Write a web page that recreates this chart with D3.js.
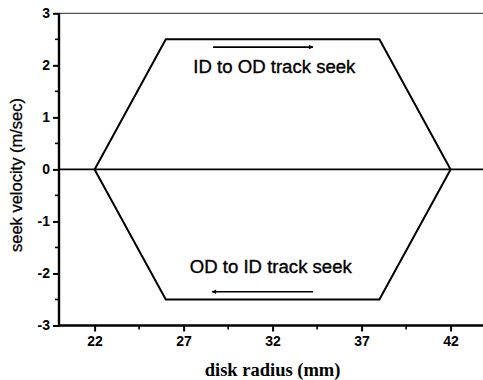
<!DOCTYPE html>
<html>
<head>
<meta charset="utf-8">
<script src="https://cdn.jsdelivr.net/npm/d3@7"></script>
<style>
  html, body { margin: 0; padding: 0; background: #fff; }
  svg { display: block; }
</style>
</head>
<body>
<svg id="chart" width="483" height="380"></svg>
<script>
// Seek velocity profile across the disk radius
const radius   = [22, 26, 38, 42, 38, 26, 22];          // mm
const velocity = [0, 2.5, 2.5, 0, -2.5, -2.5, 0];       // m/sec

const xTicks = [22, 27, 32, 37, 42];
const yTicks = [-3, -2, -1, 0, 1, 2, 3];
const xMinor = [24.5, 29.5, 34.5, 39.5];
const yMinor = [-2.5, -1.5, -0.5, 0.5, 1.5, 2.5];

const seekLabels = ["ID to OD track seek", "OD to ID track seek"];
const labelX = [32.1, 31.9];
const labelY = [1.85, -2.0];
const arrowFrom = [28.65, 34.27];
const arrowTo   = [34.27, 28.6];
const arrowY    = [2.35, -2.35];

const svg = d3.select("#chart");
const W = 483, H = 380;
const plotLeft = 59, plotTop = 13.3, plotBottom = 325.5;

const x = d3.scaleLinear().domain([20, 44]).range([plotLeft, plotLeft + 24 * 17.8]);
const y = d3.scaleLinear().domain([-3, 3]).range([plotBottom, plotTop]);

// plain hyphen for negative numbers
const fmt = d => String(d);

// top frame line
svg.append("line")
  .attr("x1", plotLeft).attr("x2", W)
  .attr("y1", y(3)).attr("y2", y(3))
  .attr("stroke", "#555").attr("stroke-width", 1.2);

// zero line
svg.append("line")
  .attr("x1", plotLeft).attr("x2", W)
  .attr("y1", y(0)).attr("y2", y(0))
  .attr("stroke", "#000").attr("stroke-width", 1.6);

// hexagonal velocity profile
const line = d3.line().x((d, i) => x(radius[i])).y(d => y(d));
svg.append("path")
  .datum(velocity)
  .attr("d", line)
  .attr("fill", "none")
  .attr("stroke", "#000")
  .attr("stroke-width", 2)
  .attr("stroke-linejoin", "miter");

// axes
const xAxis = d3.axisBottom(x).tickValues(xTicks).tickSize(6).tickPadding(5).tickFormat(fmt);
const yAxis = d3.axisLeft(y).tickValues(yTicks).tickSize(6).tickPadding(3).tickFormat(fmt);

const gx = svg.append("g").attr("transform", `translate(0,${plotBottom})`).call(xAxis);
const gy = svg.append("g").attr("transform", `translate(${plotLeft},0)`).call(yAxis);

gx.select(".domain").remove();
gy.select(".domain").remove();

[gx, gy].forEach(g => {
  g.selectAll(".tick line").attr("stroke", "#000").attr("stroke-width", 2);
  g.selectAll(".tick text")
    .attr("fill", "#000")
    .style("font-family", "'Liberation Sans', Arial, sans-serif")
    .style("font-weight", "bold")
    .style("font-size", "14px");
});

// minor ticks
svg.append("g").selectAll("line").data(xMinor).join("line")
  .attr("x1", d => x(d)).attr("x2", d => x(d))
  .attr("y1", plotBottom).attr("y2", plotBottom + 4)
  .attr("stroke", "#000").attr("stroke-width", 1.6);
svg.append("g").selectAll("line").data(yMinor).join("line")
  .attr("x1", plotLeft - 4).attr("x2", plotLeft)
  .attr("y1", d => y(d)).attr("y2", d => y(d))
  .attr("stroke", "#000").attr("stroke-width", 1.6);

// axis lines
svg.append("line")
  .attr("x1", plotLeft).attr("x2", plotLeft)
  .attr("y1", y(3)).attr("y2", plotBottom + 1)
  .attr("stroke", "#000").attr("stroke-width", 2.4);
svg.append("line")
  .attr("x1", plotLeft - 1).attr("x2", W)
  .attr("y1", plotBottom).attr("y2", plotBottom)
  .attr("stroke", "#000").attr("stroke-width", 2.4);

// arrowhead
svg.append("defs").append("marker")
  .attr("id", "head")
  .attr("viewBox", "0 0 10 10")
  .attr("refX", 9).attr("refY", 5)
  .attr("markerWidth", 8).attr("markerHeight", 4.5)
  .attr("markerUnits", "userSpaceOnUse")
  .attr("orient", "auto")
  .append("path").attr("d", "M0,0 L10,5 L0,10 Z").attr("fill", "#000");

svg.append("g").selectAll("line").data(arrowY).join("line")
  .attr("x1", (d, i) => x(arrowFrom[i]))
  .attr("x2", (d, i) => x(arrowTo[i]))
  .attr("y1", d => y(d)).attr("y2", d => y(d))
  .attr("stroke", "#000").attr("stroke-width", 1.6)
  .attr("marker-end", "url(#head)");

// direction labels
svg.append("g").selectAll("text").data(seekLabels).join("text")
  .attr("x", (d, i) => x(labelX[i]))
  .attr("y", (d, i) => y(labelY[i]))
  .attr("text-anchor", "middle")
  .attr("textLength", 162)
  .attr("lengthAdjust", "spacingAndGlyphs")
  .style("font-family", "'Liberation Sans', Arial, sans-serif")
  .style("font-size", "17.5px")
  .attr("fill", "#000")
  .attr("stroke", "#000")
  .attr("stroke-width", 0.35)
  .text(d => d);

// axis titles
svg.append("text")
  .attr("x", (x(22) + x(42)) / 2)
  .attr("y", 376)
  .attr("text-anchor", "middle")
  .style("font-family", "'Liberation Serif', 'Times New Roman', serif")
  .style("font-weight", "bold")
  .style("font-size", "18.5px")
  .attr("fill", "#000")
  .text("disk radius (mm)");

svg.append("text")
  .attr("transform", "translate(22,175) rotate(-90)")
  .attr("text-anchor", "middle")
  .style("font-family", "'Liberation Sans', Arial, sans-serif")
  .style("font-size", "16.5px")
  .attr("fill", "#000")
  .attr("stroke", "#000")
  .attr("stroke-width", 0.3)
  .text("seek velocity (m/sec)");
</script>
</body>
</html>
